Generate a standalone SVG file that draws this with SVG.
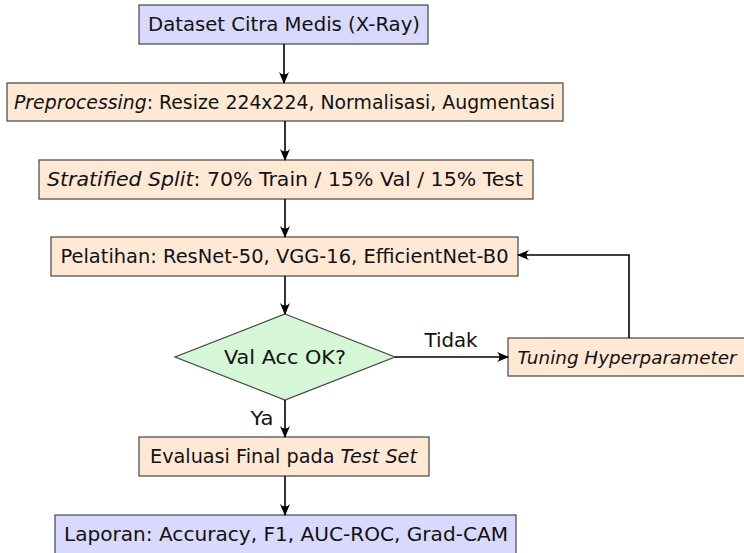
<svg xmlns="http://www.w3.org/2000/svg" width="744" height="553" viewBox="0 0 744 553">
<defs>
<marker id="arr" viewBox="0 0 12 12" refX="11" refY="6" markerWidth="12" markerHeight="12" markerUnits="userSpaceOnUse" orient="auto">
<path d="M0,1 Q5,6 0,11 L12,6 Z" fill="#000"/>
</marker>
</defs>
<style>
.b{fill:#d9d9ff;stroke:#444;stroke-width:1.2}
.o{fill:#ffe9d5;stroke:#444;stroke-width:1.2}
.g{fill:#d5f7d5;stroke:#444;stroke-width:1.2}
text{font-family:"DejaVu Sans",sans-serif;font-size:19.5px;fill:#111;text-anchor:middle}
.i{font-style:italic}
.c{fill:none;stroke:#000;stroke-width:1.6;marker-end:url(#arr)}
</style>
<g id="n1"><rect class="b" x="139" y="5" width="289" height="39"/><text x="284" y="31" textLength="272" lengthAdjust="spacingAndGlyphs">Dataset Citra Medis (X-Ray)</text></g>
<g id="n2"><rect class="o" x="7" y="83" width="556" height="38"/><text x="284.5" y="109" textLength="541" lengthAdjust="spacingAndGlyphs"><tspan class="i">Preprocessing</tspan>: Resize 224x224, Normalisasi, Augmentasi</text></g>
<g id="n3"><rect class="o" x="39" y="160" width="494" height="39"/><text x="285" y="186" textLength="476" lengthAdjust="spacingAndGlyphs"><tspan class="i">Stratified Split</tspan>: 70% Train / 15% Val / 15% Test</text></g>
<g id="n4"><rect class="o" x="51" y="237" width="467" height="39"/><text x="284.5" y="263" textLength="448" lengthAdjust="spacingAndGlyphs">Pelatihan: ResNet-50, VGG-16, EfficientNet-B0</text></g>
<g id="n5"><polygon class="g" points="285,314 395,357 285,400 175,357"/><text x="285" y="364" textLength="122" lengthAdjust="spacingAndGlyphs">Val Acc OK?</text></g>
<g id="n6"><rect class="o" x="508" y="338" width="240" height="38"/><text x="627" y="364" class="i" style="font-size:18px" textLength="219" lengthAdjust="spacingAndGlyphs">Tuning Hyperparameter</text></g>
<g id="n7"><rect class="o" x="139" y="437" width="290" height="39"/><text x="283.5" y="463" textLength="267" lengthAdjust="spacingAndGlyphs">Evaluasi Final pada <tspan class="i">Test Set</tspan></text></g>
<g id="n8"><rect class="b" x="55" y="515" width="461" height="42"/><text x="286" y="541" textLength="444" lengthAdjust="spacingAndGlyphs">Laporan: Accuracy, F1, AUC-ROC, Grad-CAM</text></g>
<g id="edges">
<path class="c" d="M284,44 V83"/>
<path class="c" d="M285,121 V160"/>
<path class="c" d="M285,199 V237"/>
<path class="c" d="M285,276 V314"/>
<path class="c" d="M395,357 H508"/>
<path class="c" d="M629,338 V255 H518"/>
<path class="c" d="M285,400 V437"/>
<path class="c" d="M285,476 V515"/>
<text x="451" y="347" textLength="53" lengthAdjust="spacingAndGlyphs">Tidak</text>
<text x="262" y="425" textLength="23" lengthAdjust="spacingAndGlyphs">Ya</text>
</g>
</svg>
